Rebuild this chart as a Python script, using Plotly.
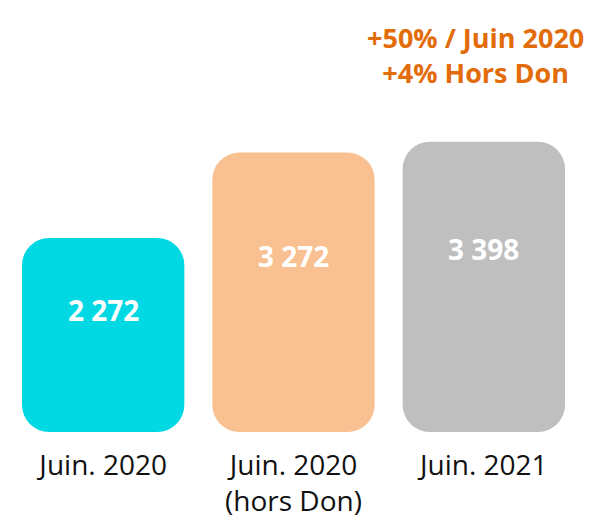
import plotly.graph_objects as go

# ---- data ----
categories = ["Juin. 2020", "Juin. 2020<br>(hors Don)", "Juin. 2021"]
values = [2272, 3272, 3398]
value_labels = ["2 272", "3 272", "3 398"]
bar_colors = ["#00D9E3", "#F9C191", "#BFBFBF"]
headline = "+50% / Juin 2020<br>+4% Hors Don"

# ---- layout constants ----
W, H = 590, 521
M_L, M_R, M_T, M_B = 8, 11, 100, 89
PX_PER_UNIT = 0.0854
plot_h = H - M_T - M_B
y_max = plot_h / PX_PER_UNIT
RADIUS = 27
LABEL_FRAC = 0.63

xs = list(range(len(categories)))

fig = go.Figure()
# floating bars (explicit base) get all four corners rounded
fig.add_trace(go.Bar(
    x=xs, y=values, base=[0] * len(values),
    width=0.853, marker=dict(color=bar_colors, line=dict(width=0), cornerradius=RADIUS),
    hoverinfo="skip", showlegend=False,
))

for i, (v, lab) in enumerate(zip(values, value_labels)):
    fig.add_annotation(x=i, y=v * LABEL_FRAC, text=f"<b>{lab}</b>", showarrow=False,
                       font=dict(family="Open Sans", size=28, color="white"),
                       xref="x", yref="y")

fig.add_annotation(
    text=f"<b>{headline}</b>", showarrow=False, xref="paper", yref="paper",
    x=(475 - M_L) / (W - M_L - M_R), y=1 + (M_T - 55) / plot_h,
    xanchor="center", yanchor="middle", align="center",
    font=dict(family="Open Sans", size=27, color="#E36C0A"),
)

fig.update_layout(
    width=W, height=H, margin=dict(l=M_L, r=M_R, t=M_T, b=M_B, pad=0, autoexpand=False),
    barmode="overlay", paper_bgcolor="white", plot_bgcolor="white",
    xaxis=dict(range=[-0.5, len(categories) - 0.5], tickmode="array", tickvals=xs,
               ticktext=categories, showgrid=False, zeroline=False, showline=False,
               ticks="outside", ticklen=8, tickcolor="rgba(0,0,0,0)", automargin=False,
               tickfont=dict(family="Open Sans", size=28, color="#111111"), fixedrange=True),
    yaxis=dict(range=[0, y_max], visible=False, fixedrange=True, automargin=False),
    font=dict(family="Open Sans"),
)

fig.write_html("out.html", config={"displayModeBar": False},
               post_script="document.body.style.margin='0';document.body.style.overflow='hidden';")
